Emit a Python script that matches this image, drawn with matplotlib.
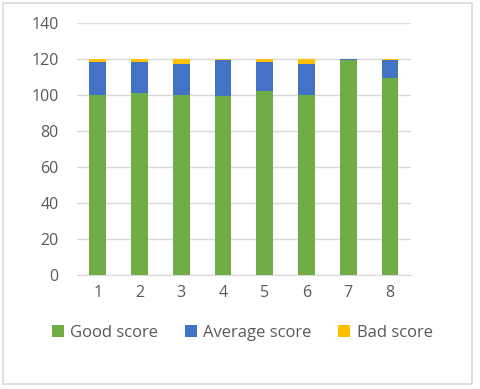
import numpy as np
import matplotlib
matplotlib.use("Agg")
import matplotlib.pyplot as plt
from matplotlib.patches import Rectangle

plt.rcParams['font.family'] = ['Open Sans', 'DejaVu Sans']

# Data
groups = ['1', '2', '3', '4', '5', '6', '7', '8']
good = np.array([100, 101, 100, 99, 102, 100, 119, 109])
average = np.array([18, 17, 17, 20, 16, 17, 1, 10])
bad = np.array([2, 2, 3, 1, 2, 3, 0, 1])
y_ticks = [0, 20, 40, 60, 80, 100, 120, 140]

text_col = '#595959'
fig = plt.figure(figsize=(4.8, 3.89), dpi=100)
ax = fig.add_axes([0.160, 0.293, 0.696, 0.649])

x = np.arange(1, len(groups) + 1)
w = 0.4
ax.bar(x, good, w, color='#70AD47', label='Good score', zorder=3)
ax.bar(x, average, w, bottom=good, color='#4472C4', label='Average score', zorder=3)
ax.bar(x, bad, w, bottom=good + average, color='#FFC000', label='Bad score', zorder=3)

ax.set_xlim(0.5, len(groups) + 0.5)
ax.set_ylim(0, 140)
ax.set_yticks(y_ticks)
ax.set_xticks(x)
ax.set_xticklabels(groups)
ax.yaxis.grid(True, color='#D9D9D9', linewidth=1, zorder=0)
for s in ['top', 'right', 'left']:
    ax.spines[s].set_visible(False)
ax.spines['bottom'].set_color('#D9D9D9')
ax.tick_params(length=0, colors=text_col, labelsize=11.5)
ax.tick_params(axis='y', pad=13)
ax.tick_params(axis='x', pad=7)

fig.legend(loc='center', bbox_to_anchor=(0.505, 0.144), ncol=3, frameon=False,
           fontsize=12, labelcolor=text_col, handlelength=0.7, handleheight=0.7,
           handletextpad=0.4, columnspacing=1.6)

# outer chart frame
fig.patches.append(Rectangle((3 / 480, 5 / 389), 469 / 480, 381 / 389,
                             transform=fig.transFigure, fill=False,
                             edgecolor='#D9D9D9', linewidth=1.2))

fig.savefig('out.png', dpi=100)
